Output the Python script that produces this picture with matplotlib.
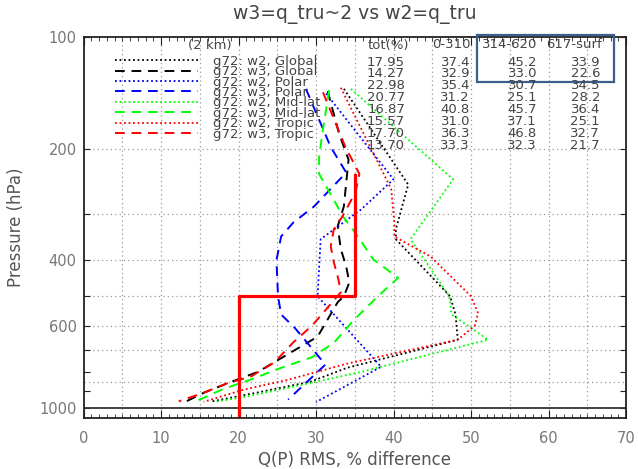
import matplotlib.pyplot as plt
from matplotlib.patches import Rectangle
from matplotlib.ticker import FixedLocator, FixedFormatter, MultipleLocator, NullLocator

plt.rcParams['font.family'] = 'DejaVu Sans'

# RMS % difference profiles (x) against pressure in hPa (p)
p_w2_global = [138, 250, 330, 351, 500, 560, 655, 780, 850, 905, 963]
x_w2_global = [33.6, 41.9, 40.3, 40.3, 47.3, 48.0, 48.3, 34.0, 29.3, 22.9, 16.3]
p_w3_global = [140, 183, 214, 247, 286, 324, 373, 416, 459, 500, 519, 643, 716, 800, 858, 911, 962]
x_w3_global = [31.5, 33.0, 34.2, 33.9, 33.6, 32.8, 33.2, 33.9, 34.3, 33.6, 32.8, 30.2, 26.4, 22.5, 18.6, 15.5, 13.2]
p_w2_polar = [142, 242, 292, 351, 500, 775, 965]
x_w2_polar = [31.3, 40.0, 35.8, 30.6, 30.2, 38.4, 30.0]
p_w3_polar = [138, 198, 232, 287, 316, 345, 400, 500, 560, 610, 700, 765, 950]
x_w3_polar = [28.7, 31.9, 33.9, 29.7, 27.1, 25.5, 24.9, 25.1, 25.5, 27.3, 29.7, 31.2, 26.4]
p_w2_mid = [138, 242, 351, 500, 560, 655, 800, 877, 935, 963]
x_w2_mid = [34.5, 47.7, 42.2, 47.2, 47.5, 52.2, 35.8, 27.1, 20.7, 17.0]
p_w3_mid = [139, 183, 211, 234, 259, 305, 345, 398, 446, 500, 579, 668, 730, 780, 840, 890, 960]
x_w3_mid = [31.7, 30.8, 30.4, 30.4, 31.6, 33.5, 35.4, 37.4, 40.6, 38.0, 34.9, 32.3, 29.5, 25.5, 21.5, 18.0, 14.5]
p_w2_trop = [137, 257, 316, 345, 391, 500, 555, 600, 655, 760, 840, 893, 963]
x_w2_trop = [33.2, 39.7, 40.1, 40.1, 44.8, 50.0, 50.9, 50.5, 48.3, 34.0, 26.4, 20.7, 15.5]
p_w3_trop = [141, 198, 234, 262, 305, 330, 367, 405, 451, 488, 600, 665, 755, 823, 858, 917, 960]
x_w3_trop = [30.9, 33.8, 35.6, 35.1, 33.4, 32.3, 31.9, 32.3, 32.9, 33.2, 29.5, 27.1, 24.6, 21.6, 18.6, 15.1, 12.3]

# red step
step_x = [20, 20, 35, 35]
step_p = [1100, 500, 500, 235]

labels = ["g72: w2, Global", "g72: w3, Global", "g72: w2, Polar", "g72: w3, Polar",
          "g72: w2, Mid-lat", "g72: w3, Mid-lat", "g72: w2, Tropic", "g72: w3, Tropic"]
tot_pct = ["17.95", "14.27", "22.98", "20.77", "16.87", "15.57", "17.70", "13.70"]
lay_0_310 = ["37.4", "32.9", "35.4", "31.2", "40.8", "31.0", "36.3", "33.3"]
lay_314_620 = ["45.2", "33.0", "30.7", "25.1", "45.7", "37.1", "46.8", "32.3"]
lay_617_surf = ["33.9", "22.6", "34.5", "28.2", "36.4", "25.1", "32.7", "21.7"]

grid_p = [200, 300, 400, 500, 600, 700, 850]
ytick_vals = [100, 200, 300, 400, 500, 600, 700, 800, 900, 1000]
ytick_text = ["100", "200", "", "400", "", "600", "", "", "", "1000"]

W, H = 638, 469
def fx(px):
    return px / W
def fy(py):
    return 1 - py / H

fig = plt.figure(figsize=(W / 100, H / 100), dpi=100)
ax = fig.add_axes([fx(83.5), fy(418), fx(626) - fx(83.5), fy(37) - fy(418)])

dot = (0, (1, 1.5))
dash = (0, (5, 3.5))
series = [
    (x_w2_global, p_w2_global, 'black', dot),
    (x_w3_global, p_w3_global, 'black', dash),
    (x_w2_polar, p_w2_polar, 'blue', dot),
    (x_w3_polar, p_w3_polar, 'blue', dash),
    (x_w2_mid, p_w2_mid, '#00ff00', dot),
    (x_w3_mid, p_w3_mid, '#00ff00', dash),
    (x_w2_trop, p_w2_trop, 'red', dot),
    (x_w3_trop, p_w3_trop, 'red', dash),
]

for gp in grid_p:
    ax.axhline(gp, color='#999999', lw=0.9, ls=(0, (1, 2.5)), zorder=0)
for gx in range(5, 70, 5):
    ax.axvline(gx, color='#999999', lw=0.9, ls=(0, (1, 2.5)), zorder=0)
ax.axhline(1000, color='#333333', lw=1.3)

handles = []
for xs, ps, c, ls in series:
    lw = 1.3 if ls is dot else 1.4
    h, = ax.plot(xs, ps, color=c, ls=ls, lw=lw)
    handles.append(h)

ax.plot(step_x, step_p, color='red', lw=2.3)

ax.set_yscale('log')
ax.set_ylim(1065, 100)
ax.set_xlim(0, 70)
ax.yaxis.set_major_locator(FixedLocator(ytick_vals))
ax.yaxis.set_major_formatter(FixedFormatter(ytick_text))
ax.yaxis.set_minor_locator(NullLocator())
ax.xaxis.set_major_locator(MultipleLocator(10))
ax.xaxis.set_minor_locator(MultipleLocator(1))
ax.tick_params(which='both', direction='in', top=True, right=True, color='#222222')
ax.tick_params(axis='x', which='major', length=6, pad=9, labelsize=10.5, labelcolor='#777777')
ax.tick_params(axis='x', which='minor', length=3)
ax.tick_params(axis='y', length=4, pad=5, labelsize=10.5, labelcolor='#777777')
for s in ax.spines.values():
    s.set_color('#222222')
    s.set_linewidth(1.3)

ax.set_xlabel("Q(P) RMS, % difference", fontsize=12, color='#555555', labelpad=4)
ax.set_ylabel("Pressure (hPa)", fontsize=12, color='#555555', labelpad=10)
fig.text(fx(355), fy(14), "w3=q_tru~2 vs w2=q_tru", fontsize=13.5, color='#444444',
         ha='center', va='center')

leg = ax.legend(handles, labels, loc='upper left', bbox_to_anchor=(fx(115), fy(55)),
                bbox_transform=fig.transFigure, frameon=False, fontsize=9.5,
                handlelength=6.3, handletextpad=1.1, labelspacing=-0.2,
                borderpad=0, borderaxespad=0)
for t in leg.get_texts():
    t.set_color('#444444')

fs = 9.5
tc = '#444444'
fig.text(fx(210), fy(45), "(2 km)", fontsize=fs, color=tc, ha='center', va='center')
fig.text(fx(368), fy(45), "tot(%)", fontsize=fs, color=tc, ha='left', va='center')
fig.text(fx(432), fy(45), "0-310", fontsize=fs, color=tc, ha='left', va='center')
fig.text(fx(482), fy(45), "314-620", fontsize=fs, color=tc, ha='left', va='center')
fig.text(fx(546), fy(45), "617-surf", fontsize=fs, color=tc, ha='left', va='center')
for i in range(len(labels)):
    yy = fy(62 + 11.86 * i)
    fig.text(fx(405), yy, tot_pct[i], fontsize=fs, color=tc, ha='right', va='center')
    fig.text(fx(470), yy, lay_0_310[i], fontsize=fs, color=tc, ha='right', va='center')
    fig.text(fx(537), yy, lay_314_620[i], fontsize=fs, color=tc, ha='right', va='center')
    fig.text(fx(600), yy, lay_617_surf[i], fontsize=fs, color=tc, ha='right', va='center')

fig.add_artist(Rectangle((fx(477), fy(82)), fx(614) - fx(477), fy(35) - fy(82),
                         transform=fig.transFigure, fill=False, ec='#3a5f8f', lw=1.6))

fig.savefig("out.png", dpi=100)
